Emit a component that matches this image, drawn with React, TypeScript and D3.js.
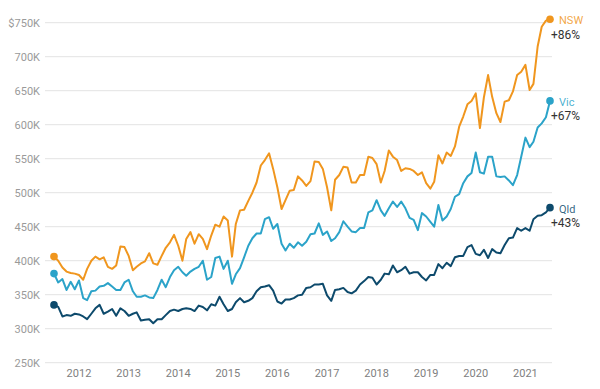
import React, { useEffect, useRef } from 'react';
import * as d3 from 'd3';

// Median house prices, monthly from Jul 2011 ($K)
const nswValues = [
  406, 400, 390, 384, 382, 381, 379, 372, 388, 400, 406, 402, 405, 391, 388, 393, 421, 420, 407, 386,
  391, 396, 399, 411, 396, 394, 407, 419, 427, 438, 422, 400, 432, 442, 425, 439, 432, 417, 437, 453,
  450, 465, 459, 406, 454, 474, 475, 488, 500, 515, 540, 548, 558, 535, 508, 476, 489, 503, 504, 524,
  518, 510, 517, 546, 545, 535, 508, 474, 519, 526, 538, 537, 515, 515, 526, 526, 553, 551, 542, 515,
  532, 562, 553, 548, 532, 536, 535, 532, 526, 530, 514, 506, 516, 555, 543, 559, 554, 568, 597, 612,
  630, 635, 646, 595, 640, 673, 641, 617, 604, 634, 636, 649, 673, 678, 688, 651, 660, 715, 744, 753,
  755,
];
const vicValues = [
  381, 368, 373, 357, 369, 358, 371, 345, 342, 355, 356, 362, 363, 367, 362, 357, 357, 368, 372, 355,
  347, 347, 349, 346, 345, 357, 372, 361, 376, 386, 391, 383, 378, 384, 388, 391, 400, 372, 376, 404,
  406, 388, 400, 366, 380, 389, 405, 422, 433, 440, 440, 461, 464, 447, 454, 425, 415, 425, 419, 427,
  422, 428, 439, 440, 455, 438, 443, 429, 433, 442, 458, 450, 443, 442, 448, 448, 471, 474, 489, 474,
  466, 477, 487, 479, 487, 477, 463, 460, 445, 470, 465, 457, 450, 482, 459, 465, 476, 494, 498, 514,
  524, 529, 559, 530, 528, 553, 553, 524, 523, 524, 518, 511, 526, 553, 581, 567, 575, 596, 602, 611,
  635,
];
const qldValues = [
  335, 332, 318, 320, 319, 322, 321, 318, 314, 322, 330, 335, 322, 325, 329, 319, 330, 326, 319, 322,
  324, 312, 313, 314, 308, 314, 314, 320, 326, 328, 326, 329, 330, 329, 326, 334, 332, 327, 336, 334,
  347, 336, 326, 329, 339, 345, 339, 341, 345, 355, 361, 362, 364, 356, 340, 337, 343, 343, 345, 349,
  350, 360, 361, 365, 365, 366, 349, 341, 357, 358, 360, 354, 352, 356, 365, 370, 376, 375, 365, 372,
  381, 380, 393, 383, 386, 391, 381, 383, 383, 376, 371, 379, 379, 395, 389, 397, 392, 405, 407, 407,
  420, 423, 410, 408, 416, 404, 417, 412, 411, 423, 433, 434, 448, 444, 448, 444, 461, 466, 467, 471,
  478,
];

const seriesNames = ['NSW', 'Vic', 'Qld'];
const seriesColors = ['#f0961e', '#2ba3c9', '#0d4a6c'];
const changeLabels = ['+86%', '+67%', '+43%'];
const yTicks = [250, 300, 350, 400, 450, 500, 550, 600, 650, 700, 750];

const App = () => {
  const ref = useRef<SVGSVGElement>(null);

  useEffect(() => {
    const svg = d3.select(ref.current);
    svg.selectAll('*').remove();

    const font = 'Roboto, sans-serif';
    const start = new Date(2011, 6, 1);
    const dates = d3.timeMonth.range(start, d3.timeMonth.offset(start, nswValues.length));

    const x = d3.scaleTime()
      .domain([dates[0], dates[dates.length - 1]])
      .range([54, 550]);

    const y = d3.scaleLinear()
      .domain([250, 750])
      .range([362.7, 22.7]);

    // gridlines + y labels
    const grid = svg.append('g');
    grid.selectAll('line')
      .data(yTicks)
      .enter().append('line')
      .attr('x1', 45)
      .attr('x2', 552)
      .attr('y1', d => y(d))
      .attr('y2', d => y(d))
      .attr('stroke', '#e3e3e3')
      .attr('stroke-width', 1);

    grid.selectAll('text')
      .data(yTicks)
      .enter().append('text')
      .attr('x', 40)
      .attr('y', d => y(d))
      .attr('dy', '0.35em')
      .attr('text-anchor', 'end')
      .attr('font-family', font)
      .attr('font-size', 11)
      .attr('fill', '#9a9a9a')
      .text(d => (d === 750 ? `$${d}K` : `${d}K`));

    // x axis year labels
    const years = d3.timeYear.range(new Date(2012, 0, 1), new Date(2022, 0, 1));
    svg.append('g')
      .selectAll('text')
      .data(years)
      .enter().append('text')
      .attr('x', d => x(d))
      .attr('y', 377)
      .attr('text-anchor', 'middle')
      .attr('font-family', font)
      .attr('font-size', 11)
      .attr('fill', '#808080')
      .text(d => d3.timeFormat('%Y')(d));

    const allValues = [nswValues, vicValues, qldValues];
    const line = d3.line<number>()
      .x((_, i) => x(dates[i]))
      .y(d => y(d));

    allValues.forEach((values, s) => {
      const color = seriesColors[s];
      const g = svg.append('g');
      g.append('path')
        .datum(values)
        .attr('d', line)
        .attr('fill', 'none')
        .attr('stroke', color)
        .attr('stroke-width', 2)
        .attr('stroke-linejoin', 'round');

      const first = values[0];
      const last = values[values.length - 1];
      const lastDate = dates[values.length - 1];

      g.append('circle')
        .attr('cx', x(dates[0]))
        .attr('cy', y(first))
        .attr('r', 3.8)
        .attr('fill', color);
      g.append('circle')
        .attr('cx', x(lastDate))
        .attr('cy', y(last))
        .attr('r', 3.8)
        .attr('fill', color);

      g.append('text')
        .attr('x', x(lastDate) + 9)
        .attr('y', y(last) + 1)
        .attr('dy', '0.35em')
        .attr('font-family', font)
        .attr('font-size', 11)
        .attr('fill', color)
        .attr('fill-opacity', 0.85)
        .text(seriesNames[s]);

      g.append('text')
        .attr('x', x(lastDate) + 1)
        .attr('y', y(last) + 15)
        .attr('dy', '0.35em')
        .attr('font-family', font)
        .attr('font-size', 12)
        .attr('fill', '#333')
        .text(changeLabels[s]);
    });
  }, []);

  return (
    <svg
      ref={ref}
      width={600}
      height={389}
      style={{ position: 'absolute', left: 0, top: 0, background: '#fff' }}
    />
  );
};

export default App;
